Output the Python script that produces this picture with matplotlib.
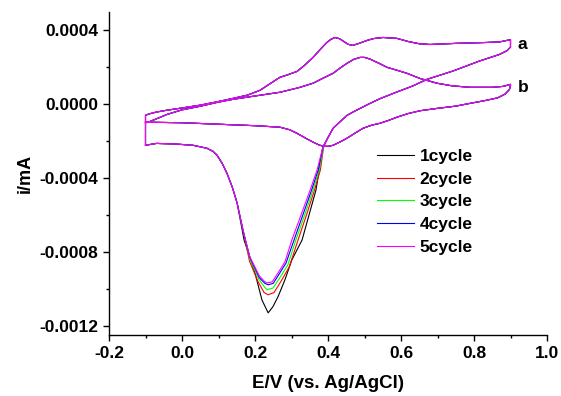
import matplotlib
matplotlib.use("Agg")
import matplotlib.pyplot as plt
from matplotlib.ticker import MultipleLocator, FuncFormatter

plt.rcParams['font.family'] = ['Liberation Sans', 'DejaVu Sans']
plt.rcParams['font.weight'] = 'bold'
plt.rcParams['axes.unicode_minus'] = False

# curve a: lower branch left part (shared by all cycles)
a_lower_left_x = [-0.1, -0.07, -0.02, 0.03, 0.068, 0.085, 0.096, 0.11, 0.123, 0.138]
a_lower_left_y = [-0.000222, -0.000212, -0.000215, -0.000222, -0.000238, -0.000255,
                  -0.000276, -0.00032, -0.000373, -0.00045]

# cathodic peak region, one list per cycle
peak_x = {
    '1cycle': [0.151, 0.170, 0.186, 0.200, 0.219, 0.236, 0.249, 0.263, 0.282, 0.301, 0.329, 0.348, 0.367, 0.386],
    '2cycle': [0.151, 0.167, 0.185, 0.208, 0.225, 0.236, 0.252, 0.271, 0.294, 0.318, 0.341, 0.363, 0.379, 0.388],
    '3cycle': [0.151, 0.167, 0.186, 0.211, 0.226, 0.233, 0.250, 0.268, 0.290, 0.312, 0.336, 0.359, 0.376, 0.387],
    '4cycle': [0.151, 0.167, 0.186, 0.212, 0.227, 0.236, 0.250, 0.266, 0.285, 0.307, 0.331, 0.355, 0.373, 0.386],
    '5cycle': [0.151, 0.167, 0.186, 0.212, 0.226, 0.233, 0.247, 0.263, 0.282, 0.301, 0.326, 0.351, 0.370, 0.386],
}
peak_y = {
    '1cycle': [-0.000535, -0.000735, -0.00083, -0.000914, -0.00106, -0.00113, -0.001097, -0.001043,
               -0.000951, -0.000843, -0.000735, -0.0006, -0.000465, -0.000232],
    '2cycle': [-0.000535, -0.000681, -0.00085, -0.00096, -0.00102, -0.001032, -0.00102, -0.00096,
               -0.00088, -0.000735, -0.0006, -0.000465, -0.000357, -0.000232],
    '3cycle': [-0.000535, -0.000681, -0.00084, -0.00095, -0.00099, -0.001005, -0.000995, -0.00094,
               -0.00087, -0.000735, -0.0006, -0.000465, -0.000357, -0.000232],
    '4cycle': [-0.000535, -0.000681, -0.00083, -0.00094, -0.00097, -0.000978, -0.00097, -0.00092,
               -0.00086, -0.000735, -0.0006, -0.000465, -0.000357, -0.000232],
    '5cycle': [-0.000535, -0.000681, -0.000827, -0.00093, -0.00096, -0.000968, -0.000962, -0.000914,
               -0.000854, -0.000735, -0.0006, -0.000465, -0.000357, -0.000232],
}

# curve a: rising branch to 0.9 V, then back along the upper branch to -0.1 V
a_return_x = [0.40, 0.414, 0.43, 0.452, 0.48, 0.51, 0.542, 0.58, 0.633, 0.671, 0.742, 0.816,
              0.87, 0.89, 0.9,
              0.9, 0.87, 0.836, 0.75, 0.679, 0.65, 0.62, 0.589, 0.551, 0.525, 0.507, 0.485,
              0.468, 0.455, 0.445, 0.432, 0.419, 0.408, 0.397, 0.38, 0.359, 0.335, 0.315, 0.29,
              0.268, 0.24, 0.214, 0.18, 0.14, 0.1, 0.049, 0.0, -0.041, -0.07, -0.09, -0.1, -0.1]
a_return_y = [-0.00018, -0.00013, -0.0001, -0.00006, -0.00003, 0.0, 0.00003, 0.00006, 0.0001,
              0.000135, 0.00018, 0.000235, 0.00027, 0.00029, 0.00031,
              0.00035, 0.000338, 0.000335, 0.00033, 0.000324, 0.000328, 0.00034, 0.000357,
              0.000362, 0.000356, 0.000346, 0.00033, 0.000319, 0.000325, 0.000338, 0.000355,
              0.000362, 0.000352, 0.000335, 0.0003, 0.000254, 0.00021, 0.000178, 0.00016,
              0.000146, 0.00011, 0.000076, 0.00005, 0.000032, 0.000015, -0.000005, -0.00002,
              -0.000032, -0.000042, -0.000052, -0.00006, -0.000222]

# curve b: lower branch then upper branch, closed loop
b_x = [-0.1, 0.0, 0.1, 0.2, 0.268, 0.295, 0.315, 0.34, 0.359, 0.375, 0.386, 0.4, 0.414, 0.432,
       0.452, 0.475, 0.496, 0.52, 0.542, 0.565, 0.589, 0.62, 0.652, 0.7, 0.75, 0.789, 0.83,
       0.865, 0.885, 0.897, 0.9,
       0.9, 0.88, 0.85, 0.789, 0.74, 0.699, 0.652, 0.616, 0.588, 0.562, 0.54, 0.515, 0.5,
       0.488, 0.47, 0.452, 0.43, 0.414, 0.385, 0.359, 0.32, 0.268, 0.2, 0.14, 0.1, 0.049, 0.0,
       -0.041, -0.074, -0.09, -0.1]
b_y = [-0.000097, -0.0001, -0.000108, -0.000116, -0.000124, -0.000138, -0.000157, -0.000185,
       -0.000205, -0.00022, -0.000227, -0.000228, -0.000222, -0.000205, -0.000184, -0.000155,
       -0.00013, -0.000113, -0.000103, -0.000088, -0.00007, -0.00005, -0.000035, -0.000022,
       -0.00001, 0.000005, 0.00002, 0.000035, 0.000055, 0.00008, 0.0001,
       0.000108, 0.000097, 0.000092, 0.000092, 0.0001, 0.000114, 0.00014, 0.000168, 0.000185,
       0.0002, 0.000222, 0.000245, 0.000254, 0.000254, 0.000243, 0.000222, 0.000192, 0.000168,
       0.00014, 0.000114, 0.00009, 0.000065, 0.000045, 0.000027, 0.000012, -0.000011,
       -0.00003, -0.000055, -0.000082, -0.000095, -0.0001]

cycles = ['1cycle', '2cycle', '3cycle', '4cycle', '5cycle']
colors = ['black', 'red', '#00ff00', 'blue', 'magenta']

fig = plt.figure(figsize=(5.61, 3.96), dpi=100)
ax = fig.add_axes([109 / 561, 1 - 335 / 396, 438 / 561, 323 / 396])

for name, col in zip(cycles, colors):
    xs = a_lower_left_x + peak_x[name] + a_return_x
    ys = a_lower_left_y + peak_y[name] + a_return_y
    ax.plot(xs, ys, color=col, linewidth=0.8, label=name)
    ax.plot(b_x, b_y, color=col, linewidth=0.8)

ax.set_xlim(-0.2, 1.0)
ax.set_ylim(-0.00125, 0.0005)
ax.spines['top'].set_visible(False)
ax.spines['right'].set_visible(False)
for s in ['left', 'bottom']:
    ax.spines[s].set_linewidth(1.0)

ax.xaxis.set_major_locator(MultipleLocator(0.2))
ax.xaxis.set_minor_locator(MultipleLocator(0.1))
ax.yaxis.set_major_locator(MultipleLocator(0.0004))
ax.yaxis.set_minor_locator(MultipleLocator(0.0002))
ax.xaxis.set_major_formatter(FuncFormatter(lambda v, p: f"{v:.1f}" if abs(v) > 1e-9 else "0.0"))
ax.yaxis.set_major_formatter(FuncFormatter(lambda v, p: f"{v:.4f}" if abs(v) > 1e-12 else "0.0000"))
ax.tick_params(which='major', direction='out', length=4, width=1.0, labelsize=12.5, pad=4)
ax.tick_params(which='minor', direction='out', length=2, width=1.0)
for lab in ax.get_xticklabels() + ax.get_yticklabels():
    lab.set_fontweight('bold')

ax.set_xlabel('E/V (vs. Ag/AgCl)', fontsize=13.5, fontweight='bold', labelpad=10)
ax.set_ylabel('i/mA', fontsize=13, fontweight='bold', labelpad=4)

ax.text(0.92, 0.000324, 'a', fontsize=12.5, fontweight='bold', ha='left', va='center')
ax.text(0.92, 0.000092, 'b', fontsize=12.5, fontweight='bold', ha='left', va='center')

ax.legend(loc='upper left', bbox_to_anchor=(0.612, 0.576), frameon=False,
          prop={'size': 12.5, 'weight': 'bold'}, handlelength=2.1, handletextpad=0.35,
          labelspacing=0.43, borderpad=0, borderaxespad=0)

fig.savefig('out.png', dpi=100)
